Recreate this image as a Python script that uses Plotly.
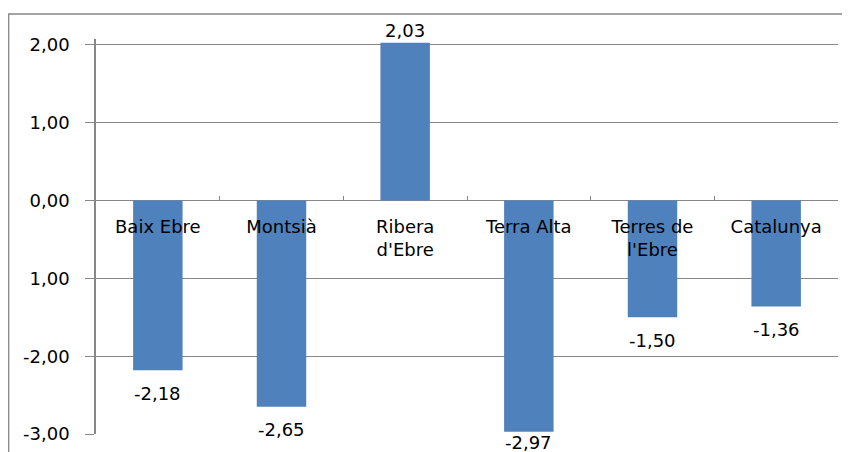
import plotly.graph_objects as go

categories = ["Baix Ebre", "Montsià", "Ribera<br>d'Ebre", "Terra Alta", "Terres de<br>l'Ebre", "Catalunya"]
values = [-2.18, -2.65, 2.03, -2.97, -1.50, -1.36]
value_labels = ["-2,18", "-2,65", "2,03", "-2,97", "-1,50", "-1,36"]
y_tickvals = [-3, -2, -1, 0, 1, 2]
y_ticktext = ["-3,00", "-2,00", "1,00", "0,00", "1,00", "2,00"]

Y_MIN, Y_MAX = -3.0, 2.077
W, H = 850, 452
OFF = 8  # page body margin
# plot area in page pixels: x 96..838, y 39..434
M_L, M_R, M_T, M_B = 96 - OFF, W - 838 + OFF, 39 - OFF, H - 434 + OFF
plot_w = W - M_L - M_R
plot_h = H - M_T - M_B
px_per_unit = plot_h / (Y_MAX - Y_MIN)

GRID = "#878787"
BAR = "#4F81BD"
FONT = "DejaVu Sans"

fig = go.Figure()
fig.add_trace(go.Bar(
    x=categories, y=values, width=0.4,
    marker=dict(color=BAR, line=dict(width=0)),
    hoverinfo="skip",
))

# data labels
for c, v, t in zip(categories, values, value_labels):
    if v >= 0:
        fig.add_annotation(x=c, y=v, text=t, showarrow=False, yanchor="bottom",
                           yshift=0, font=dict(family=FONT, size=18, color="#000"))
    else:
        end_px = M_T + (Y_MAX - v) * px_per_unit
        center_px = min(end_px + 23, 442 - OFF)
        shift = -(center_px - end_px)
        fig.add_annotation(x=c, y=v, text=t, showarrow=False, yanchor="middle",
                           yshift=shift, font=dict(family=FONT, size=18, color="#000"))

zero_pos = (0 - Y_MIN) / (Y_MAX - Y_MIN)

fig.update_layout(
    width=W, height=H,
    margin=dict(l=M_L, r=M_R, t=M_T, b=M_B, autoexpand=False),
    paper_bgcolor="white", plot_bgcolor="white",
    showlegend=False,
    font=dict(family=FONT, size=18, color="#000"),
    xaxis=dict(
        type="category", anchor="free", position=zero_pos, side="bottom",
        automargin=False,
        showline=False, showgrid=False, zeroline=False,
        ticks="inside", tickson="boundaries", ticklen=5, tickwidth=1.3, tickcolor=GRID,
        tickfont=dict(family=FONT, size=18, color="#000"),
        ticklabelstandoff=13,
    ),
    yaxis=dict(
        range=[Y_MIN, Y_MAX], tickvals=y_tickvals, ticktext=y_ticktext,
        automargin=False,
        showgrid=True, gridcolor=GRID, gridwidth=1.3,
        zeroline=False, showline=True, linecolor=GRID, linewidth=1.5,
        ticks="outside", ticklen=9, tickwidth=1.3, tickcolor=GRID,
        tickfont=dict(family=FONT, size=18, color="#000"),
        ticklabelstandoff=12,
    ),
    shapes=[dict(
        type="rect", xref="paper", yref="paper",
        x0=(8.7 - OFF - M_L) / plot_w, x1=(870 - OFF - M_L) / plot_w,
        y0=-0.3, y1=(H - M_B - (14 - OFF)) / plot_h,
        line=dict(color=GRID, width=1.3), fillcolor="rgba(0,0,0,0)", layer="below",
    )],
)

fig.write_html("out.html")
